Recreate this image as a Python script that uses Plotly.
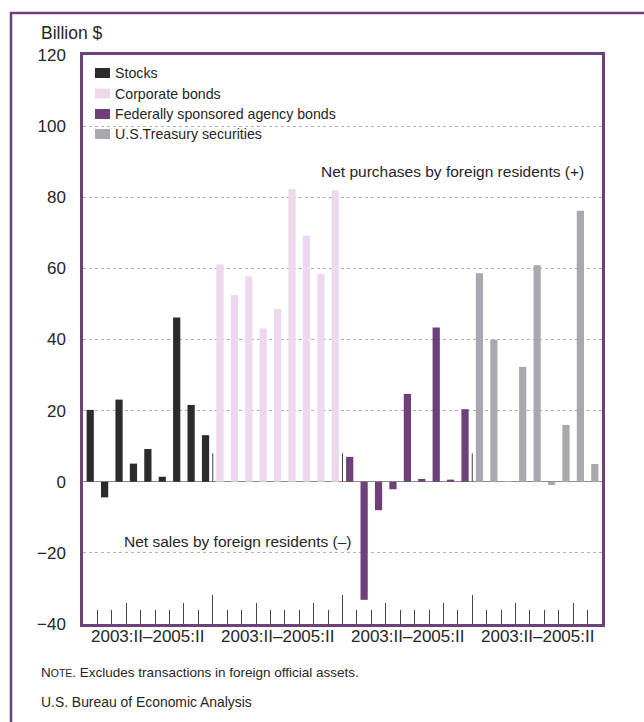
import plotly.graph_objects as go

# ---------------- data ----------------
quarter_range = "2003:II\u20132005:II"
series_names = ["Stocks", "Corporate bonds", "Federally sponsored agency bonds", "U.S.Treasury securities"]
stocks = [20.2, -4.4, 23.1, 5.1, 9.2, 1.4, 46.2, 21.6, 13.1]
corporate_bonds = [61.1, 52.5, 57.8, 43.1, 48.6, 82.3, 69.2, 58.4, 82.0]
agency_bonds = [7.0, -33.2, -8.0, -2.1, 24.7, 0.8, 43.4, 0.6, 20.4]
treasury = [58.6, 39.9, 0.2, 32.3, 60.9, -0.9, 16.0, 76.2, 5.0]
y_ticks = [-40, -20, 0, 20, 40, 60, 80, 100, 120]
y_tick_labels = ["\u221240", "\u221220", "0", "20", "40", "60", "80", "100", "120"]

colors = ["#2b2b2b", "#eed8ee", "#6e3f79", "#a9a8ad"]
purple = "#6d4279"
text_color = "#262626"
FONT = "Liberation Sans, Arial, Helvetica, sans-serif"

n_q = len(stocks)
all_series = [stocks, corporate_bonds, agency_bonds, treasury]

# plot area in pixels
L, R, T, B = 83, 602, 55, 624
W, H = 644, 722


def px(x):
    return (x - L) / (R - L)


def py(y):
    return (B - y) / (B - T)


fig = go.Figure()
for g, (name, vals, col) in enumerate(zip(series_names, all_series, colors)):
    fig.add_trace(go.Bar(
        x=[g * n_q + i for i in range(n_q)], y=vals, name=name,
        marker=dict(color=col, line=dict(width=0)),
        showlegend=False,
    ))

n_groups = len(series_names)
total = n_groups * n_q
group_bounds = [g * n_q - 0.5 for g in range(1, n_groups)]
# medium ticks at year boundaries (after 2003:IV and 2004:IV)
year_bounds = [g * n_q + k for g in range(n_groups) for k in (2.5, 6.5)]

shapes = []
# thin dividers at zero line between groups
for xb in group_bounds:
    shapes.append(dict(type="line", xref="x", yref="y", x0=xb, x1=xb, y0=0, y1=8,
                       line=dict(color="#444", width=1)))
# outer box
shapes.append(dict(type="rect", xref="paper", yref="paper",
                   x0=px(11), x1=px(660), y0=py(13), y1=py(740),
                   line=dict(color=purple, width=2.5), layer="below"))

annotations = []
# legend (manual)
leg_y = [73, 93.5, 114, 134]
for name, col, yy in zip(series_names, colors, leg_y):
    shapes.append(dict(type="rect", xref="paper", yref="paper",
                       x0=px(95), x1=px(110), y0=py(yy - 5), y1=py(yy + 5),
                       fillcolor=col, line=dict(width=0)))
    annotations.append(dict(text=name, xref="paper", yref="paper", x=px(113), y=py(yy),
                            xanchor="left", yanchor="middle", showarrow=False,
                            font=dict(size=14.2, color=text_color)))

annotations += [
    dict(text="Billion $", xref="paper", yref="paper", x=px(39), y=py(33),
         xanchor="left", yanchor="middle", showarrow=False, font=dict(size=17.5, color=text_color)),
    dict(text="Net purchases by foreign residents (+)", xref="paper", yref="paper", x=px(319), y=py(172),
         xanchor="left", yanchor="middle", showarrow=False, font=dict(size=15.5, color=text_color)),
    dict(text="Net sales by foreign residents (\u2013)", xref="paper", yref="paper", x=px(122), y=py(541),
         xanchor="left", yanchor="middle", showarrow=False, font=dict(size=15.5, color=text_color)),
    dict(text="N<span style='font-size:10.5px'>OTE</span>. Excludes transactions in foreign official assets.",
         xref="paper", yref="paper", x=px(39), y=py(672),
         xanchor="left", yanchor="middle", showarrow=False, font=dict(size=13.5, color=text_color)),
    dict(text="U.S. Bureau of Economic Analysis", xref="paper", yref="paper", x=px(39), y=py(702),
         xanchor="left", yanchor="middle", showarrow=False, font=dict(size=13.9, color=text_color)),
]
for g in range(n_groups):
    annotations.append(dict(text=quarter_range, xref="x", yref="paper", x=g * n_q + (n_q - 1) / 2,
                            y=py(636), xanchor="center", yanchor="middle", showarrow=False,
                            font=dict(size=17, color=text_color)))

fig.update_layout(
    width=W, height=H,
    margin=dict(l=L, r=W - R, t=T, b=H - B, pad=0),
    paper_bgcolor="white", plot_bgcolor="white",
    font=dict(family=FONT, color=text_color),
    bargap=0.5,
    shapes=shapes, annotations=annotations,
    xaxis=dict(
        range=[-0.5, total - 0.5], showgrid=False, zeroline=False,
        showline=True, mirror=True, linecolor=purple, linewidth=2.5,
        tickmode="array", tickvals=group_bounds, ticktext=["", "", ""],
        ticks="inside", ticklen=29, tickwidth=1, tickcolor="#444",
        minor=dict(tick0=0.5, dtick=1, ticks="inside", ticklen=14, tickwidth=1, tickcolor="#444"),
    ),
    xaxis2=dict(
        overlaying="x", matches="x", side="bottom", showgrid=False, zeroline=False,
        showline=False, tickmode="array", tickvals=year_bounds, ticktext=[""] * len(year_bounds),
        ticks="inside", ticklen=21, tickwidth=1, tickcolor="#444",
    ),
    yaxis=dict(
        range=[-40, 120], tickmode="array", tickvals=y_ticks, ticktext=y_tick_labels,
        showgrid=True, gridcolor="#b0b0b0", griddash="dot", gridwidth=1,
        zeroline=True, zerolinecolor="#8a8a8a", zerolinewidth=1,
        showline=True, mirror=True, linecolor=purple, linewidth=2.5,
        ticks="", ticklabelstandoff=11, tickfont=dict(size=17, color=text_color),
    ),
)
# invisible trace to activate xaxis2
fig.add_trace(go.Scatter(x=[0], y=[0], xaxis="x2", mode="markers",
                         marker=dict(opacity=0), showlegend=False, hoverinfo="skip"))

fig.write_html("out.html", config={"displayModeBar": False},
               post_script="document.body.style.margin='0px';document.body.style.overflow='hidden';")
